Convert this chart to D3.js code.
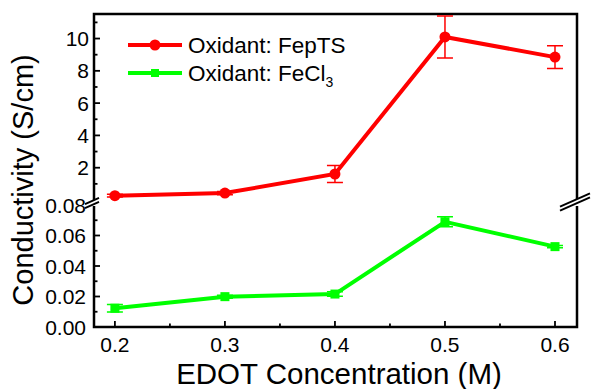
<!DOCTYPE html>
<html><head><meta charset="utf-8">
<script src="https://cdn.jsdelivr.net/npm/d3@7"></script>
<style>body{margin:0;background:#fff}svg{display:block}text{font-family:"Liberation Sans",Arial,sans-serif;fill:#000}</style>
</head><body><svg id="c" width="592" height="389"></svg>
<script>
const conc = [0.2, 0.3, 0.4, 0.5, 0.6];
const fepts = [0.27, 0.43, 1.61, 10.1, 8.85];
const feptsErr = [0.08, 0.1, 0.52, 1.3, 0.7];
const fecl3 = [0.0123, 0.0199, 0.0216, 0.069, 0.0527];
const fecl3Err = [0.0024, 0.001, 0.0015, 0.0033, 0.0008];
const xTicks = [0.2, 0.3, 0.4, 0.5, 0.6];
const upperTicks = [2, 4, 6, 8, 10];
const lowerTicks = [0, 0.02, 0.04, 0.06, 0.08];
const seriesNames = ["Oxidant: FepTS", "Oxidant: FeCl"];

const svg = d3.select("#c");
const L = 94, R = 577, T = 14, B = 327, upB = 200, loT = 206;
const x = d3.scaleLinear().domain([0.181, 0.62]).range([L, R]);
const yU = d3.scaleLinear().domain([0, 11.52]).range([upB, T]);
const yL = d3.scaleLinear().domain([0, 0.08]).range([B, 205]);
const red = "#ff0000", green = "#00ff00";

// axes frame
const g = svg.append("g").attr("stroke", "#000").attr("stroke-width", 2.5).attr("fill", "none");
g.append("path").attr("d", `M${L},${upB}V${T}H${R}V${upB}`);
g.append("path").attr("d", `M${L},${loT}V${B}H${R}V${loT}`);

// ticks
const tk = svg.append("g").attr("stroke", "#000").attr("stroke-width", 1.8);
d3.range(1, 12).forEach(v => {
  const len = v % 2 === 0 ? 6 : 3.5;
  tk.append("line").attr("x1", L).attr("x2", L + len).attr("y1", yU(v)).attr("y2", yU(v));
});
d3.range(0, 9).forEach(i => {
  const v = i * 0.01, len = i % 2 === 0 ? 6 : 3.5;
  if (i === 0 || i === 8) return;
  tk.append("line").attr("x1", L).attr("x2", L + len).attr("y1", yL(v)).attr("y2", yL(v));
});
d3.range(0.2, 0.61, 0.05).forEach((v, i) => {
  const len = i % 2 === 0 ? 6 : 3.5;
  tk.append("line").attr("x1", x(v)).attr("x2", x(v)).attr("y1", B).attr("y2", B - len);
});

// tick labels
const fs = 21;
svg.append("g").selectAll("text").data(upperTicks).join("text")
  .attr("x", 89).attr("y", d => yU(d) + 7.5).attr("text-anchor", "end").attr("font-size", fs).text(d => d);
svg.append("g").selectAll("text").data(lowerTicks).join("text")
  .attr("x", 86).attr("y", d => yL(d) + 7.5).attr("text-anchor", "end").attr("font-size", fs).text(d => d3.format(".2f")(d));
svg.append("g").selectAll("text").data(xTicks).join("text")
  .attr("x", d => x(d)).attr("y", 352).attr("text-anchor", "middle").attr("font-size", fs).text(d => d3.format(".1f")(d));

// break marks
function brk(cx, cy, w) {
  const gg = svg.append("g");
  const dx = w / 2, dy = w * 0.22;
  gg.append("path").attr("d", `M${cx - dx},${cy + dy - 2}L${cx + dx},${cy - dy - 2}L${cx + dx},${cy - dy + 2}L${cx - dx},${cy + dy + 2}Z`)
    .attr("fill", "#fff").attr("stroke", "none");
  [-2, 2].forEach(o => gg.append("line").attr("x1", cx - dx).attr("y1", cy + dy + o).attr("x2", cx + dx).attr("y2", cy - dy + o)
    .attr("stroke", "#000").attr("stroke-width", 2));
}
brk(92, 203, 14);
brk(575, 202, 30);

// axis titles
svg.append("text").attr("x", 339).attr("y", 384).attr("text-anchor", "middle").attr("font-size", 29.5).text("EDOT Concentration (M)");
svg.append("text").attr("transform", "translate(33,180) rotate(-90)").attr("text-anchor", "middle").attr("font-size", 29).text("Conductivity (S/cm)");

// series FepTS
const lineU = d3.line().x((d, i) => x(conc[i])).y(d => yU(d));
const eb = svg.append("g").attr("stroke-width", 1.5);
fepts.forEach((v, i) => {
  const xx = x(conc[i]), y1 = yU(v - feptsErr[i]), y2 = yU(v + feptsErr[i]);
  eb.append("path").attr("stroke", red).attr("fill", "none")
    .attr("d", `M${xx},${y1}V${y2}M${xx - 8},${y1}H${xx + 8}M${xx - 8},${y2}H${xx + 8}`);
});
svg.append("path").attr("d", lineU(fepts)).attr("stroke", red).attr("stroke-width", 4).attr("fill", "none");
svg.append("g").selectAll("circle").data(fepts).join("circle")
  .attr("cx", (d, i) => x(conc[i])).attr("cy", d => yU(d)).attr("r", 5.5).attr("fill", red);

// series FeCl3
const lineL = d3.line().x((d, i) => x(conc[i])).y(d => yL(d));
fecl3.forEach((v, i) => {
  const xx = x(conc[i]), y1 = yL(v - fecl3Err[i]), y2 = yL(v + fecl3Err[i]);
  eb.append("path").attr("stroke", green).attr("fill", "none")
    .attr("d", `M${xx},${y1}V${y2}M${xx - 8},${y1}H${xx + 8}M${xx - 8},${y2}H${xx + 8}`);
});
svg.append("path").attr("d", lineL(fecl3)).attr("stroke", green).attr("stroke-width", 4).attr("fill", "none");
svg.append("g").selectAll("rect").data(fecl3).join("rect")
  .attr("x", (d, i) => x(conc[i]) - 4.5).attr("y", d => yL(d) - 4.5).attr("width", 9).attr("height", 9).attr("fill", green);

// legend
const lg = svg.append("g");
lg.append("line").attr("x1", 128).attr("x2", 182).attr("y1", 45).attr("y2", 45).attr("stroke", red).attr("stroke-width", 4);
lg.append("circle").attr("cx", 155).attr("cy", 45).attr("r", 5.5).attr("fill", red);
lg.append("text").attr("x", 188).attr("y", 53).attr("font-size", 22.5).text(seriesNames[0]);
lg.append("line").attr("x1", 128).attr("x2", 182).attr("y1", 73).attr("y2", 73).attr("stroke", green).attr("stroke-width", 4);
lg.append("rect").attr("x", 151).attr("y", 69).attr("width", 8).attr("height", 8).attr("fill", green);
const t2 = lg.append("text").attr("x", 188).attr("y", 81).attr("font-size", 22.5).text(seriesNames[1]);
t2.append("tspan").attr("font-size", 14).attr("dy", 6).text("3");
</script></body></html>
